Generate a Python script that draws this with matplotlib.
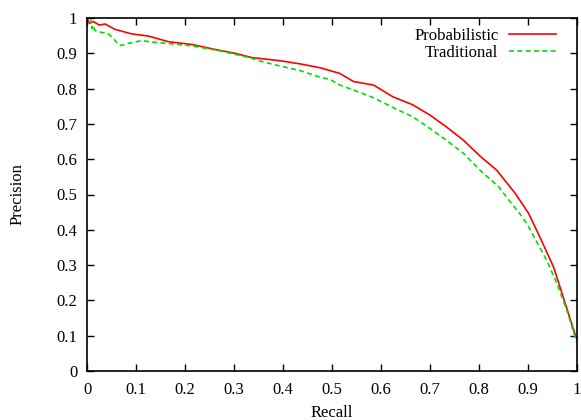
import numpy as np
import matplotlib.pyplot as plt

plt.rcParams['font.family'] = ['Liberation Serif', 'DejaVu Serif']
plt.rcParams['font.size'] = 12

# Probabilistic (red, solid)
prob_recall = [0.0, 0.005, 0.013, 0.025, 0.037, 0.057, 0.091, 0.125, 0.166, 0.214,
               0.268, 0.302, 0.336, 0.394, 0.435, 0.476, 0.516, 0.544, 0.585, 0.624,
               0.665, 0.7, 0.733, 0.768, 0.802, 0.836, 0.874, 0.901, 0.924, 0.952,
               0.966, 0.982, 0.998, 1.0]
prob_precision = [1.0, 0.985, 0.99, 0.98, 0.983, 0.968, 0.955, 0.949, 0.933, 0.925,
                  0.909, 0.9, 0.888, 0.879, 0.87, 0.859, 0.843, 0.82, 0.81, 0.777,
                  0.754, 0.725, 0.692, 0.654, 0.609, 0.569, 0.503, 0.447, 0.38, 0.295,
                  0.235, 0.165, 0.095, 0.09]

# Traditional (green, dashed)
trad_recall = [0.008, 0.01, 0.012, 0.016, 0.023, 0.035, 0.044, 0.055, 0.064, 0.07,
               0.08, 0.091, 0.111, 0.132, 0.166, 0.214, 0.268, 0.302, 0.336, 0.353,
               0.394, 0.435, 0.476, 0.496, 0.516, 0.544, 0.585, 0.631, 0.665, 0.7,
               0.733, 0.768, 0.802, 0.84, 0.861, 0.888, 0.901, 0.92, 0.938, 0.959,
               0.979, 0.996, 1.0]
trad_precision = [1.0, 0.97, 0.98, 0.965, 0.961, 0.958, 0.955, 0.94, 0.925, 0.922,
                  0.927, 0.93, 0.936, 0.932, 0.928, 0.921, 0.908, 0.897, 0.886, 0.878,
                  0.864, 0.851, 0.832, 0.826, 0.81, 0.796, 0.774, 0.742, 0.72, 0.687,
                  0.654, 0.617, 0.569, 0.522, 0.484, 0.437, 0.409, 0.36, 0.314, 0.248,
                  0.173, 0.097, 0.08]

ticks = np.round(np.arange(0, 1.01, 0.1), 1)
tick_labels = ['0'] + ['%g' % t for t in ticks[1:-1]] + ['1']

fig = plt.figure(figsize=(5.81, 4.2), dpi=100)
ax = fig.add_axes([87 / 581, 49 / 420, 490 / 581, 353 / 420])

ax.plot(prob_recall, prob_precision, color='#ff0000', lw=1.2, label='Probabilistic')
ax.plot(trad_recall, trad_precision, color='#00e000', lw=1.2, ls=(0, (3, 2)),
        label='Traditional')

ax.set_xlim(0, 1)
ax.set_ylim(0, 1)
ax.set_xticks(ticks)
ax.set_yticks(ticks)
ax.set_xticklabels(tick_labels)
ax.set_yticklabels(tick_labels)
ax.tick_params(direction='in', length=5, width=1, top=True, right=True, labelsize=12)
ax.tick_params(axis='y', pad=7)
ax.tick_params(axis='x', pad=8)
for s in ax.spines.values():
    s.set_linewidth(1.2)

ax.set_xlabel('Recall', fontsize=12)
ax.set_ylabel('Precision', fontsize=12)
ax.xaxis.set_label_coords(0.5, -0.097)
ax.yaxis.set_label_coords(-0.125, 0.5)

ax.legend(loc='upper right', markerfirst=False, frameon=False, handlelength=2.8,
          handletextpad=0.65, labelspacing=0.08, borderpad=0, borderaxespad=0,
          fontsize=12, bbox_to_anchor=(0.957, 0.972))

fig.savefig('out.png', dpi=100)
